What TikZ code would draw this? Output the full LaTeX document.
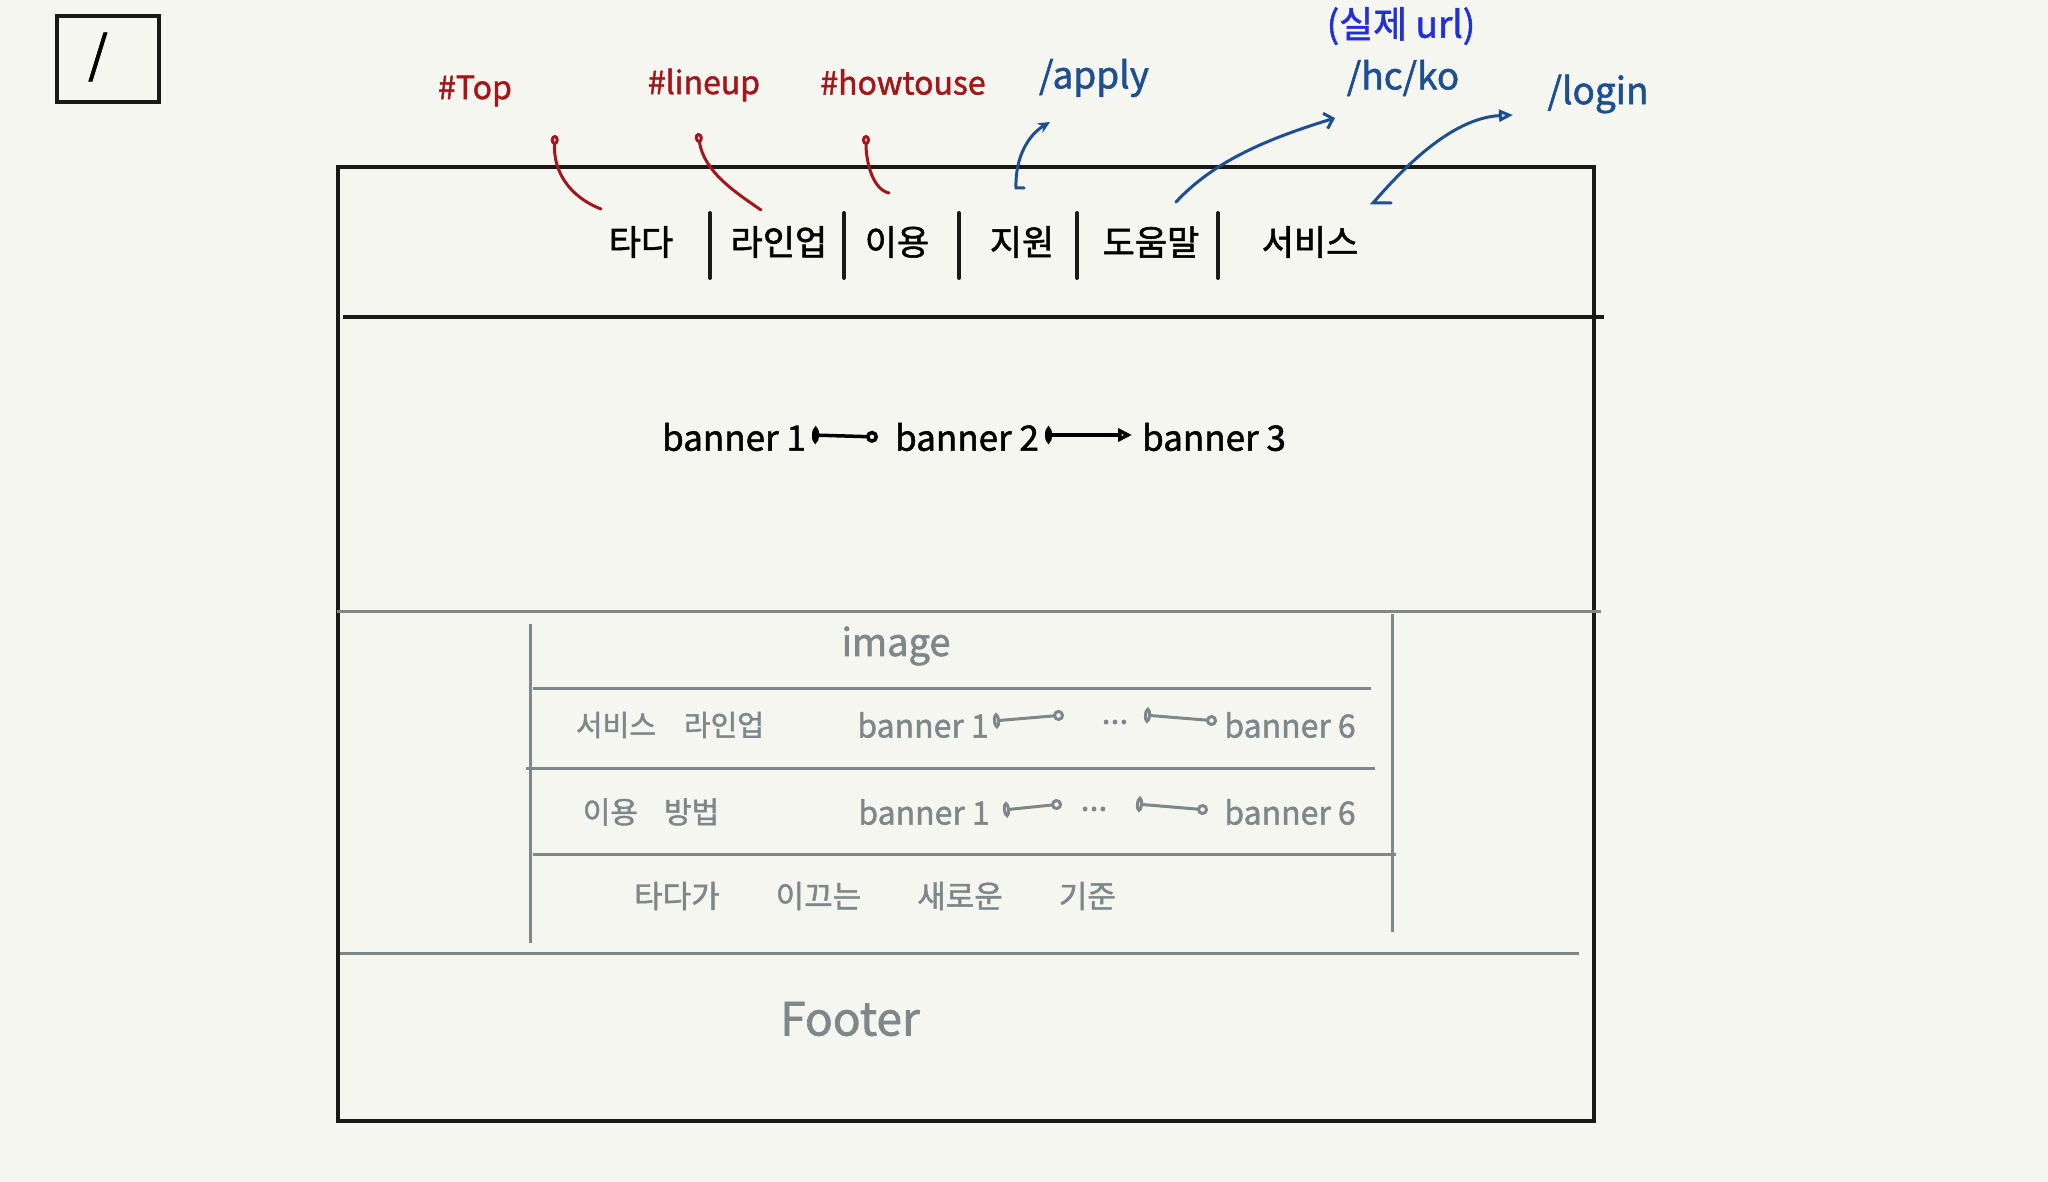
\documentclass[tikz,border=0pt]{standalone}
\usepackage{fontspec}
\setmainfont{Noto Sans CJK KR}[FakeBold=1.5]
\usetikzlibrary{arrows.meta}
\definecolor{bgc}{HTML}{F6F6F1}
\definecolor{redc}{HTML}{A3161B}
\definecolor{bluec}{HTML}{1D4F91}
\definecolor{bbluec}{HTML}{2230D8}
\definecolor{greyc}{HTML}{7E8789}
\newcommand{\myfs}[1]{\fontsize{#1}{#1}\selectfont}
\begin{document}
\begin{tikzpicture}[x=1pt,y=-1pt,
  frame/.style={line width=4pt,draw=black!90},
  gline/.style={line width=3pt,draw=greyc},
  menu/.style={font=\myfs{35},text=black,inner sep=0pt},
  divider/.style={line width=4pt,draw=black!90,line cap=round},
  redlbl/.style={font=\myfs{32},text=redc,inner sep=0pt},
  bluelbl/.style={font=\myfs{37},text=bluec,inner sep=0pt},
  redcurve/.style={draw=redc,line width=3pt,line cap=round,arrows={Circle[open,length=10pt,width=8pt]-}},
  bluecurve/.style={draw=bluec,line width=3pt,line cap=round},
  bnr/.style={font=\myfs{35},text=black,inner sep=0pt},
  gtxt/.style={font=\myfs{29},text=greyc,inner sep=0pt},
  garrow/.style={draw=greyc,line width=3pt,arrows={Ellipse[open,length=7pt,width=15pt]-Circle[open,length=11pt]}},
  barrowA/.style={draw=black,line width=3.5pt,arrows={Ellipse[open,length=7pt,width=16pt]-Circle[open,length=12pt]}},
  barrowB/.style={draw=black,line width=3.5pt,arrows={Ellipse[open,length=7pt,width=16pt]-Triangle[open,length=14pt,width=13pt]}}
]
\useasboundingbox (0,0) rectangle (2048,1182);
\fill[bgc] (0,0) rectangle (2048,1182);

% root box
\draw[line width=3.5pt,draw=black!90] (57,16) rectangle (159,102);
\node[font=\myfs{50},inner sep=0pt] (root) at (98,57) {/};

% main frame
\draw[frame] (338,167) rectangle (1594,1121);
\draw[frame] (343,317) -- (1604,317);

% menu
\node[menu] (m1) at (641,242) {타다};
\node[menu] (m2) at (779,242) {라인업};
\node[menu] (m3) at (897,242) {이용};
\node[menu] (m4) at (1022,242) {지원};
\node[menu] (m5) at (1151,242) {도움말};
\node[menu] (m6) at (1310,242) {서비스};
\foreach \x in {710,844,959,1077,1218}{\draw[divider] (\x,213) -- (\x,278);}

% labels
\node[redlbl] (ltop) at (475,91) {\#Top};
\node[redlbl] (llineup) at (704,85) {\#lineup};
\node[redlbl] (lhow) at (903,82) {\#howtouse};
\node[bluelbl] (lapply) at (1094,78) {/apply};
\node[bluelbl,text=bbluec] (lreal) at (1401,26) {(실제 url)};
\node[bluelbl] (lhc) at (1403,78) {/hc/ko};
\node[bluelbl] (llogin) at (1598,94) {/login};

% connector end points
\coordinate (ctop) at (555,135);   \coordinate (etop) at (601,209);
\coordinate (cline) at (698,133);  \coordinate (eline) at (761,210);
\coordinate (chow) at (866,135);   \coordinate (ehow) at (889,193);
\coordinate (sapply) at (1016,188); \coordinate (tapply) at (1050,122);
\coordinate (shc) at (1176,202);   \coordinate (thc) at (1335,118);
\coordinate (slogin) at (1373,203); \coordinate (tlogin) at (1513,115);

\draw[redcurve] (ctop) .. controls (553,172) and (570,197) .. (etop);
\draw[redcurve] (cline) .. controls (704,172) and (735,192) .. (eline);
\draw[redcurve] (chow) .. controls (866,165) and (874,190) .. (ehow);
\draw[bluecurve,arrows={-Stealth[length=12pt,width=11pt]}] ([xshift=8pt]sapply) -- (sapply) .. controls (1015,155) and (1030,134) .. (tapply);
\draw[bluecurve,arrows={-Straight Barb[length=8pt,width=16pt]}] (shc) .. controls (1215,160) and (1270,138) .. (thc);
\draw[bluecurve,arrows={-Triangle[open,length=14pt,width=12pt]}] ([xshift=18pt]slogin) -- (slogin) .. controls (1400,172) and (1450,118) .. (tlogin);

% banner row
\node[bnr] (b1) at (734,437) {banner 1};
\node[bnr] (b2) at (967,437) {banner 2};
\node[bnr] (b3) at (1214,437) {banner 3};
\draw[barrowA] ([xshift=78pt,yshift=2pt]b1.center) -- ([xshift=-89pt]b2.center);
\draw[barrowB] ([xshift=78pt,yshift=2pt]b2.center) -- ([xshift=-82pt,yshift=2pt]b3.center);

% grey section
\draw[gline] (337,611) -- (1601,611);
\draw[gline] (530,624) -- (530,943);
\draw[gline] (1392,614) -- (1392,932);
\draw[gline] (533,688) -- (1371,688);
\draw[gline] (526,768) -- (1375,768);
\draw[gline] (533,854) -- (1396,854);
\draw[gline] (340,953) -- (1579,953);

\node[gtxt,font=\myfs{38}] (img) at (896,646) {image};

\node[gtxt] (r2t) at (670,725) {서비스\hspace{28pt}라인업};
\node[gtxt,font=\myfs{32}] (r2b1) at (923,725) {banner 1};
\node[gtxt,font=\myfs{32}] (r2d) at (1115,722) {...};
\node[gtxt,font=\myfs{32}] (r2b6) at (1290,725) {banner 6};
\draw[garrow] ([xshift=70pt,yshift=4pt]r2b1.center) -- ([xshift=-51pt,yshift=7pt]r2d.center);
\draw[garrow] ([xshift=29pt,yshift=7pt]r2d.center) -- ([xshift=-73pt,yshift=4pt]r2b6.center);

\node[gtxt,font=\myfs{30}] (r3t) at (651,812) {이용\hspace{26pt}방법};
\node[gtxt,font=\myfs{32}] (r3b1) at (924,812) {banner 1};
\node[gtxt,font=\myfs{32}] (r3d) at (1094,809) {...};
\node[gtxt,font=\myfs{32}] (r3b6) at (1290,812) {banner 6};
\draw[garrow] ([xshift=79pt,yshift=2pt]r3b1.center) -- ([xshift=-32pt,yshift=5pt]r3d.center);
\draw[garrow] ([xshift=42pt,yshift=5pt]r3d.center) -- ([xshift=-82pt,yshift=2pt]r3b6.center);

\node[gtxt,font=\myfs{31}] (r4t) at (875,896) {타다가\hspace{56pt}이끄는\hspace{56pt}새로운\hspace{56pt}기준};

\node[gtxt,font=\myfs{46}] (foot) at (850,1019) {Footer};
\end{tikzpicture}
\end{document}
